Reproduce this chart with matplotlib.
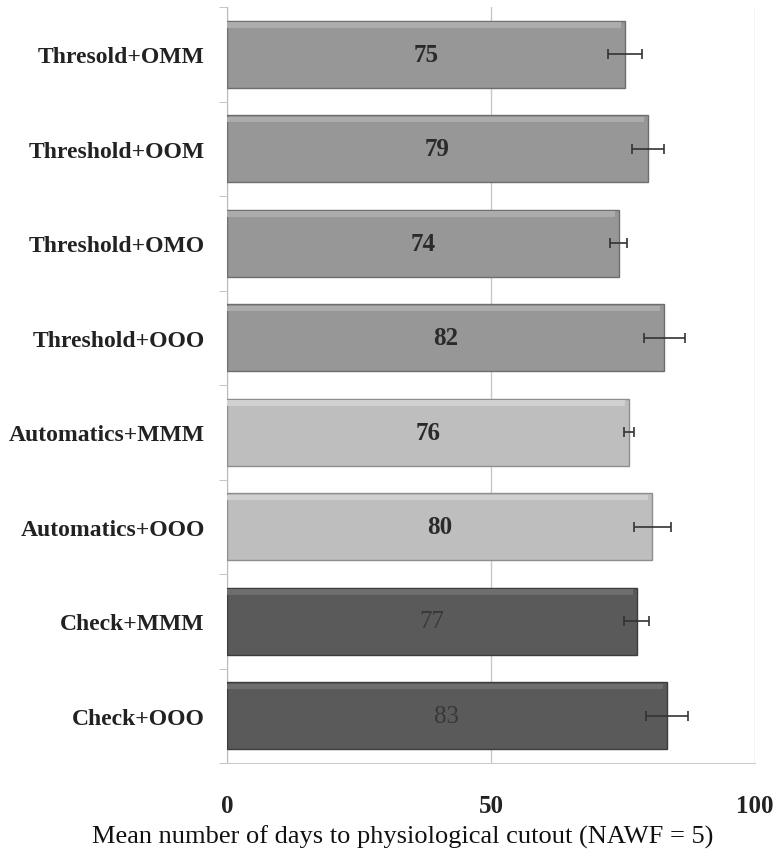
import matplotlib
matplotlib.use("Agg")
import matplotlib.pyplot as plt
import numpy as np

categories = ["Thresold+OMM", "Threshold+OOM", "Threshold+OMO", "Threshold+OOO",
              "Automatics+MMM", "Automatics+OOO", "Check+MMM", "Check+OOO"]
means = [75.4, 79.7, 74.2, 82.8, 76.1, 80.5, 77.6, 83.3]
labels = ["75", "79", "74", "82", "76", "80", "77", "83"]
errors = [3.2, 3.0, 1.6, 3.9, 1.0, 3.5, 2.4, 4.0]
groups = ["Threshold", "Threshold", "Threshold", "Threshold",
          "Automatics", "Automatics", "Check", "Check"]
xticks = [0, 50, 100]

colors = {"Threshold": "#979797", "Automatics": "#bebebe", "Check": "#5a5a5a"}
lights = {"Threshold": "#acacac", "Automatics": "#d0d0d0", "Check": "#6e6e6e"}
edges = {"Threshold": "#6e6e6e", "Automatics": "#8e8e8e", "Check": "#3c3c3c"}
txtcol = {"Threshold": "#2a2a2a", "Automatics": "#2a2a2a", "Check": "#383838"}
txtw = {"Threshold": "bold", "Automatics": "bold", "Check": "normal"}

fig = plt.figure(figsize=(7.79, 8.62), dpi=100)
ax = fig.add_axes([227/779, 1-764/862, (755-227)/779, (764-8)/862])

h = 0.71
y = np.arange(len(categories))
for i in range(len(categories)):
    g = groups[i]
    ax.barh(y[i], means[i], height=h, color=colors[g], edgecolor=edges[g],
            linewidth=1.0, zorder=3)
    # subtle bevel highlight just inside the top edge of the bar
    ax.barh(y[i] - h/2 + 0.045, means[i] - 0.8, height=0.06, color=lights[g],
            linewidth=0, zorder=3.5)
    ax.errorbar(means[i], y[i], xerr=errors[i], fmt="none", ecolor="#333333",
                elinewidth=1.2, capsize=3.5, capthick=1.2, zorder=4)
    ax.text(means[i]/2, y[i], labels[i], ha="center", va="center",
            fontsize=18, fontweight=txtw[g], color=txtcol[g],
            family="Liberation Serif", zorder=5)

ax.set_ylim(len(categories)-0.5, -0.5)
ax.set_xlim(0, 100)
ax.set_yticks(y)
ax.set_yticklabels(categories, family="Liberation Serif", fontweight="bold",
                   fontsize=17, color="#222222")
ax.set_yticks(np.arange(-0.5, len(categories)), minor=True)
ax.tick_params(axis="y", which="major", length=0, pad=16)
ax.tick_params(axis="y", which="minor", length=6, color="#bbbbbb")
ax.set_xticks(xticks)
ax.set_xticklabels([str(t) for t in xticks], family="Liberation Serif",
                   fontweight="bold", fontsize=18, color="#222222")
ax.tick_params(axis="x", length=0, pad=22)
ax.grid(axis="x", color="#c8c8c8", linewidth=1.0, zorder=0)
ax.set_axisbelow(True)
for s in ["top", "right"]:
    ax.spines[s].set_visible(False)
ax.spines["left"].set_color("#bbbbbb")
ax.spines["bottom"].set_color("#cccccc")
ax.set_xlabel("Mean number of days to physiological cutout (NAWF = 5)",
              family="Liberation Serif", fontsize=19, color="#111111")
ax.xaxis.set_label_coords(0.333, -0.082)

fig.savefig("out.png", dpi=100)
